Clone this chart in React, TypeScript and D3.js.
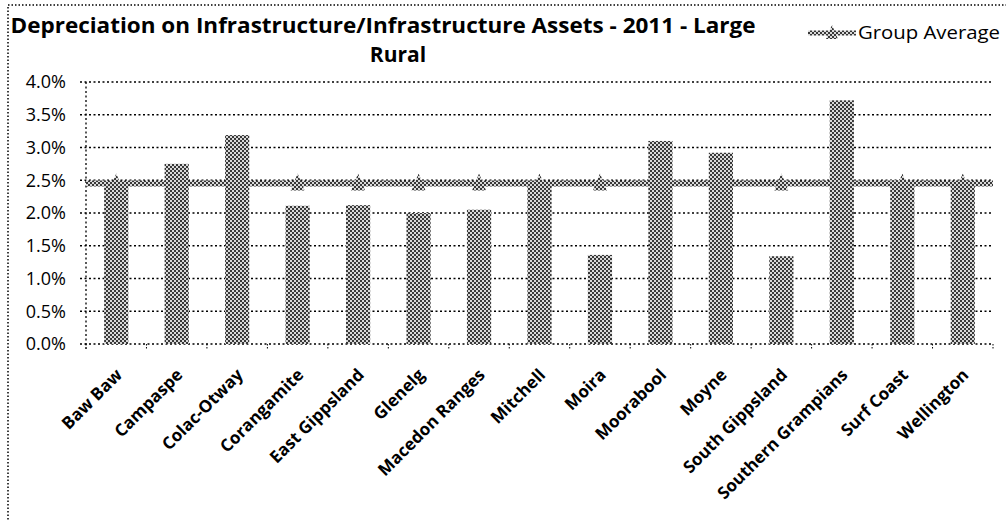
import React from "react";
import * as d3 from "d3";

const categories = [
  "Baw Baw", "Campaspe", "Colac-Otway", "Corangamite", "East Gippsland", "Glenelg",
  "Macedon Ranges", "Mitchell", "Moira", "Moorabool", "Moyne", "South Gippsland",
  "Southern Grampians", "Surf Coast", "Wellington",
];
const values = [2.41, 2.75, 3.19, 2.11, 2.12, 2.0, 2.05, 2.45, 1.36, 3.1, 2.92, 1.34, 3.72, 2.5, 2.47];
const groupAverage = [2.45, 2.45, 2.45, 2.45, 2.45, 2.45, 2.45, 2.45, 2.45, 2.45, 2.45, 2.45, 2.45, 2.45, 2.45];
const yTicks = [0, 0.5, 1.0, 1.5, 2.0, 2.5, 3.0, 3.5, 4.0];
const titleLines = ["Depreciation on Infrastructure/Infrastructure Assets - 2011 - Large", "Rural"];
const legendLabel = "Group Average";

const W = 1006, H = 521;
const plot = { left: 86, right: 993, top: 82, bottom: 344 };
const font = "'Open Sans', Lato, sans-serif";

export default function App() {
  const x = d3.scaleBand<string>().domain(categories).range([plot.left, plot.right]).paddingInner(0.6).paddingOuter(0.3);
  const xb = d3.scaleBand<string>().domain(categories).range([plot.left, plot.right]);
  const y = d3.scaleLinear().domain([0, 4]).range([plot.bottom, plot.top]);
  const fmt = d3.format(".1%");
  const tri = (cx: number, cy: number, w = 7, up = 10, down = 7) => `M${cx},${cy - up}L${cx + w},${cy + down}L${cx - w},${cy + down}Z`;
  const line = d3.line<number>().x((_, i) => (i === 0 ? plot.left : i === groupAverage.length + 1 ? plot.right : (xb(categories[i - 1]) as number) + xb.bandwidth() / 2)).y((d) => y(d));
  const avgPts = [groupAverage[0], ...groupAverage, groupAverage[groupAverage.length - 1]];

  return (
    <svg width={W} height={H} style={{ position: "absolute", left: 0, top: 0, background: "#fff" }} fontFamily={font}>
      <defs>
        <pattern id="pat" patternUnits="userSpaceOnUse" width={4} height={4}>
          <rect width={4} height={4} fill="#d8d8d8" />
          <rect x={0} y={0} width={2} height={2} fill="#383838" />
          <rect x={2} y={2} width={2} height={2} fill="#383838" />
        </pattern>
      </defs>
      <rect x={8} y={5} width={1010} height={530} fill="none" stroke="#000" strokeWidth={1.5} strokeDasharray="1.5,2" />
      <text x={383} y={33} textAnchor="middle" fontSize={21} fontWeight="bold" fill="#000" textLength={745} lengthAdjust="spacingAndGlyphs">{titleLines[0]}</text>
      <text x={398} y={62} textAnchor="middle" fontSize={21} fontWeight="bold" fill="#000">{titleLines[1]}</text>
      {yTicks.map((t) => (
        <g key={t}>
          <line x1={plot.left - 6} x2={plot.right} y1={y(t)} y2={y(t)} stroke="#000" strokeWidth={1.3} strokeDasharray="2,2.5" />
          <text x={66} y={y(t)} dy="0.36em" textAnchor="end" fontSize={18} fill="#000">{fmt(t / 100)}</text>
        </g>
      ))}
      <line x1={plot.left} x2={plot.left} y1={plot.top} y2={plot.bottom + 5} stroke="#000" strokeWidth={1.3} strokeDasharray="2,2.5" />
      {[...categories.map((c) => xb(c) as number), plot.right].map((tx, i) => (
        <line key={i} x1={tx} x2={tx} y1={plot.bottom} y2={plot.bottom + 5} stroke="#000" strokeWidth={1} strokeDasharray="1.5,1.5" />
      ))}
      {categories.map((c, i) => (
        <rect key={c} x={x(c)} y={y(values[i])} width={x.bandwidth()} height={y(0) - y(values[i])} fill="url(#pat)" />
      ))}
      <path d={line(avgPts) || ""} fill="none" stroke="url(#pat)" strokeWidth={6} />
      {categories.map((c, i) => (
        <path key={c} d={tri((xb(c) as number) + xb.bandwidth() / 2, y(groupAverage[i]))} fill="url(#pat)" />
      ))}
      {categories.map((c) => {
        const cx = (xb(c) as number) + xb.bandwidth() / 2 + 7;
        return (
          <text key={c} transform={`translate(${cx},${plot.bottom + 32}) rotate(-45)`} textAnchor="end" fontSize={17} fontWeight="bold" fill="#000">{c}</text>
        );
      })}
      <line x1={808} x2={856} y1={33} y2={33} stroke="url(#pat)" strokeWidth={5} />
      <path d={tri(832, 33, 6, 8, 6)} fill="url(#pat)" />
      <text x={858} y={33} dy="0.36em" fontSize={18} fill="#000" textLength={142} lengthAdjust="spacingAndGlyphs">{legendLabel}</text>
    </svg>
  );
}
